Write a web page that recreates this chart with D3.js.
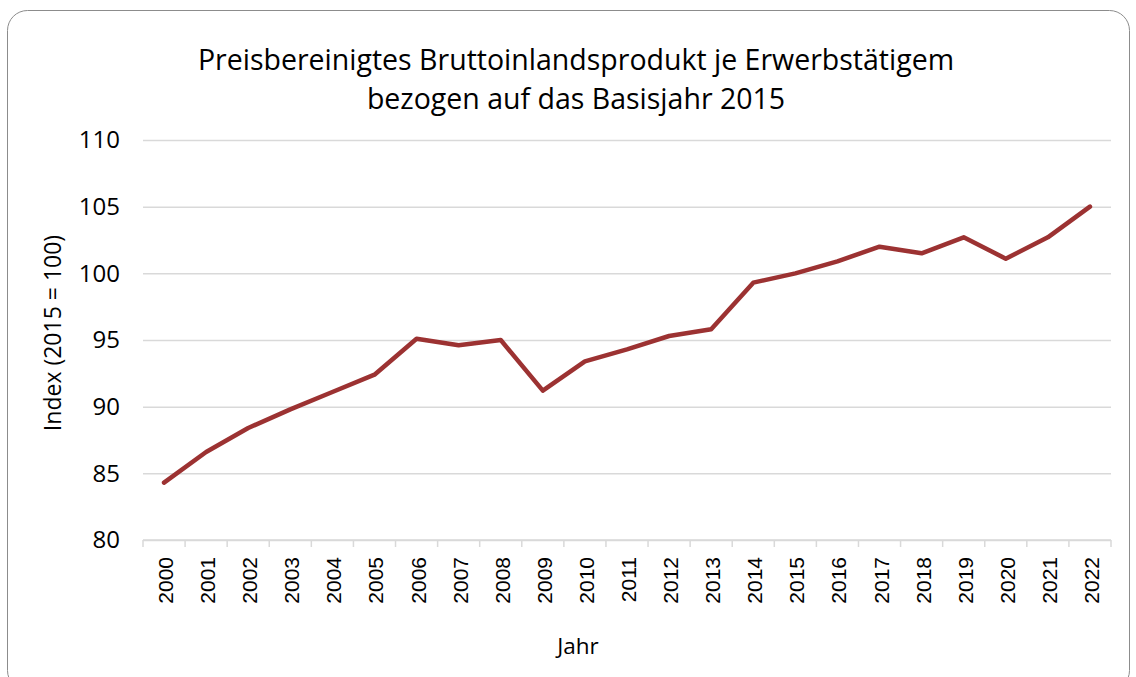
<!DOCTYPE html>
<html>
<head>
<meta charset="utf-8">
<script src="https://cdn.jsdelivr.net/npm/d3@7"></script>
<style>
    body { margin: 0; background: #fff; }
    text { font-family: "Open Sans", "Noto Sans", sans-serif; fill: #000; }
</style>
</head>
<body>
<div id="chart"></div>
<script>

var years = ["2000", "2001", "2002", "2003", "2004", "2005", "2006", "2007", "2008", "2009", "2010", "2011",
    "2012", "2013", "2014", "2015", "2016", "2017", "2018", "2019", "2020", "2021", "2022"];

var indexValues = [84.3, 86.6, 88.4, 89.8, 91.1, 92.4, 95.1, 94.6, 95.0, 91.2, 93.4, 94.3,
    95.3, 95.8, 99.3, 100.0, 100.9, 102.0, 101.5, 102.7, 101.1, 102.7, 105.0];

var yTicks = [80, 85, 90, 95, 100, 105, 110];

var titleLines = ["Preisbereinigtes Bruttoinlandsprodukt je Erwerbstätigem", "bezogen auf das Basisjahr 2015"];

var W = 1136, H = 677;

var margin = {
        top: 140,
        right: 25,
        bottom: 137,
        left: 143
    },
    width = W - margin.left - margin.right,
    height = H - margin.top - margin.bottom;

var root = d3.select("#chart").append("svg")
    .attr("width", W)
    .attr("height", H);

// frame
root.append("rect")
    .attr("x", 7.5)
    .attr("y", 10.5)
    .attr("width", 1122)
    .attr("height", 680)
    .attr("rx", 20)
    .attr("fill", "none")
    .attr("stroke", "#8c8c8c")
    .attr("stroke-width", 1);

root.selectAll(".title")
    .data(titleLines)
    .enter().append("text")
    .attr("class", "title")
    .attr("x", 576)
    .attr("y", function (d, i) {
        return 70 + i * 39;
    })
    .attr("text-anchor", "middle")
    .style("font-size", "28.5px")
    .text(function (d) {
        return d;
    });

var svg = root.append("g")
    .attr("transform", "translate(" + margin.left + "," + margin.top + ")");

var x = d3.scaleBand()
    .domain(years)
    .range([0, width]);

var y = d3.scaleLinear()
    .domain([80, 110])
    .range([height, 0]);

// gridlines
svg.append("g")
    .attr("class", "grid")
    .call(d3.axisLeft(y).tickValues(yTicks).tickSize(-width).tickFormat(""))
    .call(function (g) {
        g.select(".domain").remove();
        g.selectAll("line").attr("stroke", "#d9d9d9").attr("stroke-width", 1.5);
    });

// y tick labels
svg.append("g")
    .call(d3.axisLeft(y).tickValues(yTicks).tickSize(0).tickPadding(23))
    .call(function (g) {
        g.select(".domain").remove();
        g.selectAll("text").style("font-size", "24px").attr("fill", "#000");
    });

// x axis
var xAxis = svg.append("g")
    .attr("transform", "translate(0," + height + ")");

xAxis.append("line")
    .attr("x1", 0)
    .attr("x2", width)
    .attr("stroke", "#d9d9d9")
    .attr("stroke-width", 1.5);

xAxis.selectAll(".xtick")
    .data(years.concat(["end"]))
    .enter().append("line")
    .attr("class", "xtick")
    .attr("x1", function (d, i) {
        return i * x.step();
    })
    .attr("x2", function (d, i) {
        return i * x.step();
    })
    .attr("y1", 0)
    .attr("y2", 7)
    .attr("stroke", "#d9d9d9")
    .attr("stroke-width", 1.5);

xAxis.selectAll(".xlabel")
    .data(years)
    .enter().append("text")
    .attr("class", "xlabel")
    .attr("transform", function (d) {
        return "translate(" + (x(d) + x.bandwidth() / 2 + 9) + ",17) rotate(-90)";
    })
    .attr("text-anchor", "end")
    .style("font-family", "'Liberation Sans', Arial, sans-serif")
    .style("font-size", "21px")
    .text(function (d) {
        return d;
    });

// axis titles
root.append("text")
    .attr("transform", "translate(61,333) rotate(-90)")
    .attr("text-anchor", "middle")
    .style("font-size", "23px")
    .text("Index (2015 = 100)");

root.append("text")
    .attr("x", 578)
    .attr("y", 654)
    .attr("text-anchor", "middle")
    .style("font-size", "22.5px")
    .text("Jahr");

// line
var line = d3.line()
    .x(function (d, i) {
        return x(years[i]) + x.bandwidth() / 2;
    })
    .y(function (d) {
        return y(d);
    });

svg.append("path")
    .datum(indexValues)
    .attr("d", line)
    .attr("fill", "none")
    .attr("stroke", "#9c3232")
    .attr("stroke-width", 4.5)
    .attr("stroke-linejoin", "round")
    .attr("stroke-linecap", "round");

</script>
</body>
</html>
